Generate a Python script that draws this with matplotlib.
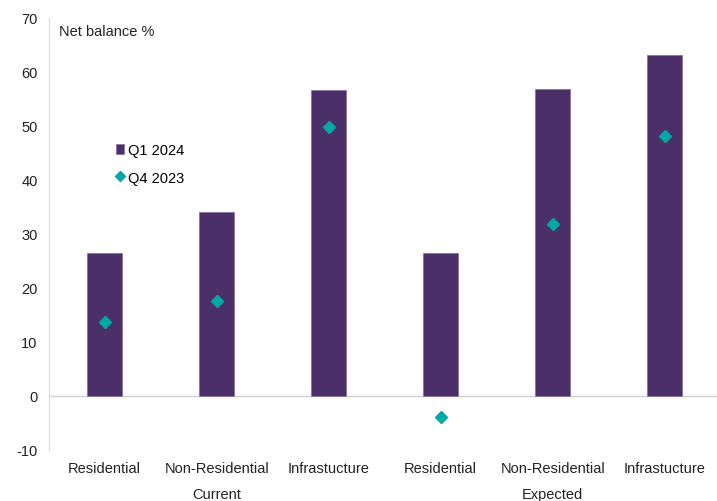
import matplotlib
matplotlib.use("Agg")
import matplotlib.pyplot as plt
import numpy as np

plt.rcParams['font.family'] = ['Liberation Sans', 'DejaVu Sans']
plt.rcParams['axes.unicode_minus'] = False

categories = ["Residential", "Non-Residential", "Infrastucture",
              "Residential", "Non-Residential", "Infrastucture"]
groups = ["Current", "Expected"]
q1_2024 = [26.5, 34.0, 56.6, 26.5, 56.8, 63.1]
q4_2023 = [13.7, 17.5, 49.8, -3.8, 31.9, 48.2]

BAR_COLOR = "#4b2f68"
DOT_COLOR = "#00a9a5"

fig = plt.figure(figsize=(7.17, 5.02), dpi=100)
ax = fig.add_axes([0.068, 0.1016, 0.937, 0.8606])

x = np.arange(len(categories))
bars = ax.bar(x, q1_2024, width=0.31, color=BAR_COLOR, edgecolor="#8a74a6",
              linewidth=0.6, label="Q1 2024", zorder=2)
dots, = ax.plot(x, q4_2023, linestyle="none", marker="D", markersize=6.5,
                color=DOT_COLOR, label="Q4 2023", zorder=3)

ax.set_xlim(-0.5, len(categories) - 0.5)
ax.set_ylim(-10, 70)
ax.set_yticks(np.arange(-10, 71, 10))
ax.axhline(0, color="#d0d0d0", linewidth=1, zorder=1)

for s in ["top", "right", "bottom"]:
    ax.spines[s].set_visible(False)
ax.spines["left"].set_color("#d9d9d9")
ax.tick_params(axis="y", length=0, labelsize=10.5, pad=8, colors="#222222")
ax.tick_params(axis="x", length=0, labelsize=10.5, pad=8, colors="#222222")
ax.set_xticks(x)
ax.set_xticklabels(categories)

# group labels under the category labels
for i, g in enumerate(groups):
    ax.text(i * 3 + 1, -18.2, g, ha="center", va="center", fontsize=10.5,
            color="#222222")

ax.text(0.015, 0.985, "Net balance %", transform=ax.transAxes, ha="left",
        va="top", fontsize=10.5, color="#222222")

ax.legend([bars, dots], ["Q1 2024", "Q4 2023"], loc="upper left",
          bbox_to_anchor=(0.08, 0.74), frameon=False,
          fontsize=10.5, handlelength=0.6, handletextpad=0.25, labelspacing=0.9,
          markerscale=0.75)

fig.savefig("out.png", dpi=100)
